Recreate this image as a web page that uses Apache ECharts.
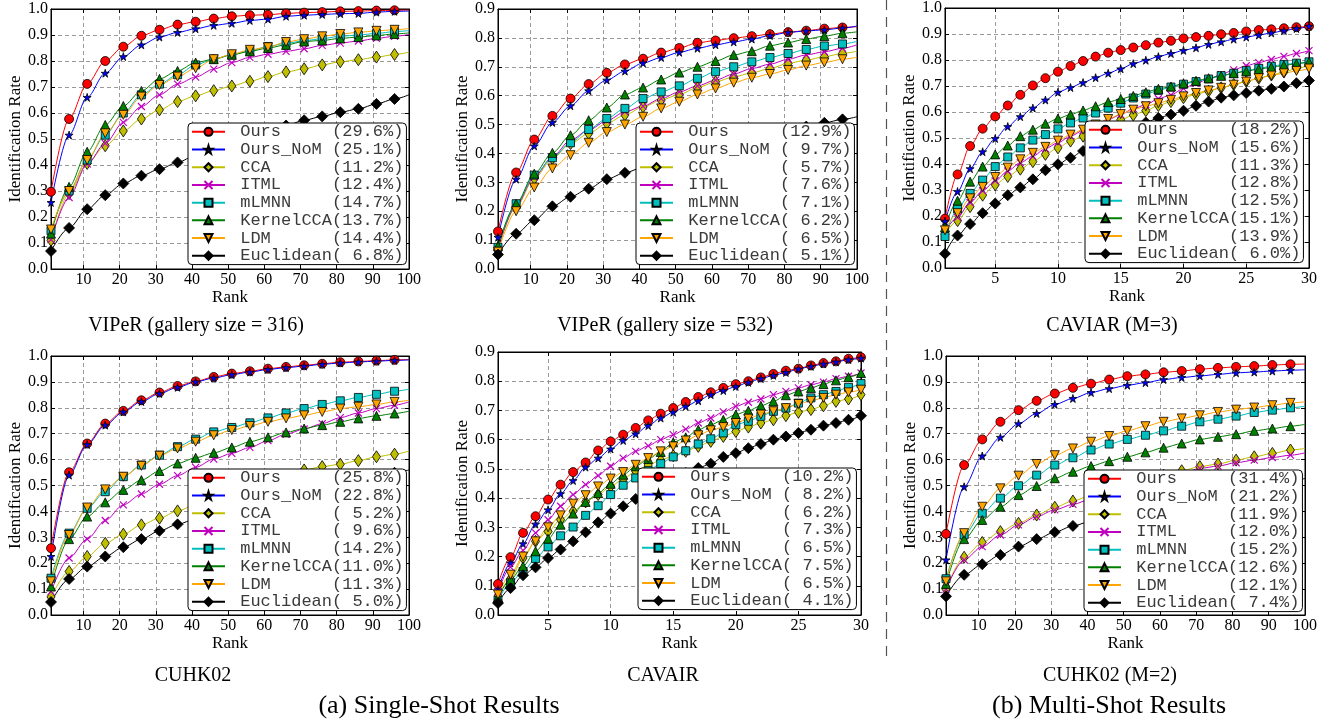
<!DOCTYPE html>
<html>
<head>
<meta charset="utf-8">
<script src="https://cdn.jsdelivr.net/npm/echarts@6/dist/echarts.min.js"></script>
<style>
  html, body { margin: 0; padding: 0; background: #fff; }
  #chart { width: 1330px; height: 721px; }
</style>
</head>
<body>
<div id="chart"></div>
<script>
// methods, in legend order
const methods = ['Ours', 'Ours_NoM', 'CCA', 'ITML', 'mLMNN', 'KernelCCA', 'LDM', 'Euclidean']

// ranks where markers are drawn (last 100 is the end of the line, no marker)
const ranks100 = [1, 6, 11, 16, 21, 26, 31, 36, 41, 46, 51, 56, 61, 66, 71, 76, 81, 86, 91, 96, 100]
const ranks30 = [1, 2, 3, 4, 5, 6, 7, 8, 9, 10, 11, 12, 13, 14, 15, 16, 17, 18, 19, 20, 21, 22, 23, 24, 25, 26, 27, 28, 29, 30]
const ticks100 = [10, 20, 30, 40, 50, 60, 70, 80, 90, 100]
const ticks30 = [5, 10, 15, 20, 25, 30]

// rank-1 rates shown in the legends
const pctViper316 = [29.6, 25.1, 11.2, 12.4, 14.7, 13.7, 14.4, 6.8]
const pctViper532 = [12.9, 9.7, 5.7, 7.6, 7.1, 6.2, 6.5, 5.1]
const pctCaviar3 = [18.2, 15.6, 11.3, 12.8, 12.5, 15.1, 13.9, 6.0]
const pctCuhk = [25.8, 22.8, 5.2, 9.6, 14.2, 11.0, 11.3, 5.0]
const pctCavair = [10.2, 8.2, 6.2, 7.3, 6.5, 7.5, 6.5, 4.1]
const pctCuhk2 = [31.4, 21.2, 11.9, 12.0, 15.2, 12.6, 12.1, 7.4]

// VIPeR (gallery size = 316), one row per method
const viper316 = [
    [0.297, 0.577, 0.712, 0.800, 0.855, 0.897, 0.920, 0.940, 0.951, 0.963, 0.972, 0.976, 0.978, 0.983, 0.986, 0.988, 0.991, 0.992, 0.994, 0.995, 0.996],
    [0.256, 0.515, 0.660, 0.753, 0.817, 0.862, 0.892, 0.910, 0.924, 0.937, 0.945, 0.956, 0.961, 0.972, 0.976, 0.979, 0.982, 0.983, 0.988, 0.991, 0.992],
    [0.110, 0.290, 0.406, 0.474, 0.531, 0.577, 0.612, 0.644, 0.666, 0.686, 0.704, 0.722, 0.740, 0.758, 0.770, 0.785, 0.797, 0.805, 0.815, 0.825, 0.834],
    [0.113, 0.275, 0.404, 0.483, 0.564, 0.625, 0.670, 0.711, 0.738, 0.769, 0.794, 0.814, 0.826, 0.837, 0.847, 0.860, 0.869, 0.877, 0.887, 0.895, 0.902],
    [0.147, 0.300, 0.419, 0.515, 0.600, 0.670, 0.711, 0.747, 0.785, 0.807, 0.824, 0.839, 0.856, 0.868, 0.878, 0.886, 0.895, 0.900, 0.906, 0.913, 0.917],
    [0.136, 0.316, 0.451, 0.554, 0.627, 0.685, 0.731, 0.762, 0.794, 0.807, 0.824, 0.837, 0.850, 0.862, 0.875, 0.879, 0.887, 0.892, 0.898, 0.904, 0.908],
    [0.152, 0.300, 0.419, 0.522, 0.593, 0.663, 0.708, 0.740, 0.772, 0.807, 0.826, 0.843, 0.853, 0.873, 0.884, 0.895, 0.904, 0.910, 0.916, 0.920, 0.925],
    [0.069, 0.158, 0.230, 0.284, 0.329, 0.359, 0.384, 0.410, 0.437, 0.462, 0.486, 0.509, 0.531, 0.552, 0.572, 0.587, 0.603, 0.616, 0.635, 0.654, 0.670]
]

// VIPeR (gallery size = 532)
const viper532 = [
    [0.130, 0.334, 0.448, 0.530, 0.590, 0.640, 0.679, 0.708, 0.728, 0.749, 0.765, 0.783, 0.791, 0.799, 0.806, 0.813, 0.820, 0.825, 0.832, 0.836, 0.839],
    [0.110, 0.311, 0.426, 0.507, 0.565, 0.617, 0.654, 0.685, 0.713, 0.732, 0.750, 0.764, 0.776, 0.786, 0.796, 0.808, 0.819, 0.824, 0.828, 0.834, 0.841],
    [0.070, 0.215, 0.313, 0.382, 0.434, 0.469, 0.504, 0.533, 0.561, 0.585, 0.604, 0.628, 0.648, 0.665, 0.679, 0.694, 0.712, 0.723, 0.735, 0.746, 0.754],
    [0.070, 0.220, 0.319, 0.388, 0.446, 0.481, 0.513, 0.544, 0.564, 0.590, 0.613, 0.634, 0.654, 0.675, 0.694, 0.709, 0.726, 0.741, 0.752, 0.764, 0.776],
    [0.075, 0.226, 0.325, 0.385, 0.437, 0.483, 0.521, 0.556, 0.590, 0.613, 0.634, 0.660, 0.683, 0.700, 0.717, 0.732, 0.746, 0.760, 0.772, 0.779, 0.788],
    [0.080, 0.226, 0.330, 0.402, 0.463, 0.515, 0.559, 0.604, 0.628, 0.656, 0.680, 0.700, 0.720, 0.741, 0.754, 0.773, 0.784, 0.796, 0.806, 0.816, 0.821],
    [0.060, 0.200, 0.282, 0.348, 0.394, 0.437, 0.474, 0.500, 0.527, 0.556, 0.579, 0.604, 0.625, 0.645, 0.662, 0.675, 0.689, 0.704, 0.715, 0.726, 0.733],
    [0.050, 0.122, 0.169, 0.217, 0.250, 0.278, 0.311, 0.333, 0.352, 0.370, 0.388, 0.405, 0.421, 0.436, 0.451, 0.466, 0.480, 0.493, 0.506, 0.518, 0.527]
]

// CAVIAR (M=3), ranks 1..30
const caviar3 = [
    [0.190, 0.360, 0.469, 0.536, 0.583, 0.625, 0.666, 0.702, 0.730, 0.755, 0.777, 0.796, 0.813, 0.828, 0.838, 0.848, 0.857, 0.867, 0.874, 0.883, 0.888, 0.893, 0.899, 0.904, 0.910, 0.915, 0.918, 0.922, 0.926, 0.930],
    [0.180, 0.294, 0.382, 0.447, 0.498, 0.544, 0.582, 0.615, 0.646, 0.676, 0.694, 0.713, 0.732, 0.749, 0.766, 0.786, 0.799, 0.813, 0.825, 0.837, 0.847, 0.860, 0.870, 0.880, 0.888, 0.896, 0.904, 0.913, 0.921, 0.930],
    [0.130, 0.182, 0.236, 0.280, 0.320, 0.352, 0.380, 0.409, 0.437, 0.462, 0.488, 0.507, 0.530, 0.550, 0.570, 0.588, 0.605, 0.625, 0.640, 0.655, 0.668, 0.680, 0.693, 0.706, 0.718, 0.730, 0.742, 0.754, 0.767, 0.780],
    [0.140, 0.195, 0.252, 0.297, 0.335, 0.373, 0.405, 0.430, 0.459, 0.482, 0.507, 0.529, 0.552, 0.571, 0.590, 0.613, 0.628, 0.651, 0.666, 0.690, 0.710, 0.727, 0.744, 0.762, 0.778, 0.790, 0.802, 0.814, 0.825, 0.836],
    [0.121, 0.227, 0.287, 0.338, 0.390, 0.427, 0.462, 0.492, 0.513, 0.535, 0.558, 0.577, 0.596, 0.615, 0.634, 0.654, 0.669, 0.683, 0.696, 0.707, 0.717, 0.727, 0.740, 0.749, 0.759, 0.768, 0.776, 0.783, 0.788, 0.793],
    [0.157, 0.259, 0.332, 0.390, 0.437, 0.471, 0.507, 0.532, 0.555, 0.575, 0.590, 0.606, 0.622, 0.638, 0.650, 0.662, 0.676, 0.689, 0.698, 0.710, 0.720, 0.730, 0.739, 0.749, 0.757, 0.765, 0.772, 0.779, 0.786, 0.792],
    [0.145, 0.211, 0.268, 0.312, 0.350, 0.386, 0.418, 0.443, 0.466, 0.490, 0.513, 0.532, 0.552, 0.573, 0.592, 0.609, 0.622, 0.634, 0.647, 0.660, 0.673, 0.683, 0.693, 0.705, 0.717, 0.730, 0.740, 0.749, 0.758, 0.767],
    [0.055, 0.125, 0.169, 0.211, 0.248, 0.280, 0.310, 0.341, 0.376, 0.399, 0.424, 0.450, 0.473, 0.497, 0.517, 0.539, 0.560, 0.577, 0.590, 0.605, 0.624, 0.640, 0.655, 0.664, 0.673, 0.682, 0.689, 0.698, 0.711, 0.721]
]

// CUHK02
const cuhk = [
    [0.258, 0.551, 0.662, 0.739, 0.788, 0.829, 0.859, 0.884, 0.902, 0.919, 0.932, 0.941, 0.951, 0.958, 0.964, 0.970, 0.976, 0.979, 0.982, 0.985, 0.986],
    [0.226, 0.540, 0.658, 0.733, 0.784, 0.824, 0.855, 0.879, 0.900, 0.915, 0.928, 0.938, 0.948, 0.955, 0.961, 0.968, 0.973, 0.977, 0.980, 0.983, 0.985],
    [0.070, 0.168, 0.226, 0.277, 0.312, 0.348, 0.374, 0.402, 0.425, 0.449, 0.472, 0.496, 0.518, 0.540, 0.560, 0.573, 0.582, 0.596, 0.611, 0.621, 0.633],
    [0.090, 0.220, 0.293, 0.365, 0.425, 0.467, 0.505, 0.538, 0.570, 0.602, 0.624, 0.647, 0.673, 0.698, 0.718, 0.739, 0.762, 0.780, 0.797, 0.810, 0.823],
    [0.142, 0.316, 0.412, 0.476, 0.534, 0.579, 0.617, 0.650, 0.679, 0.707, 0.724, 0.742, 0.761, 0.780, 0.797, 0.813, 0.827, 0.840, 0.852, 0.864, 0.872],
    [0.110, 0.293, 0.380, 0.435, 0.483, 0.521, 0.556, 0.585, 0.607, 0.626, 0.647, 0.669, 0.686, 0.705, 0.720, 0.733, 0.746, 0.759, 0.769, 0.778, 0.787],
    [0.130, 0.309, 0.415, 0.485, 0.534, 0.576, 0.615, 0.643, 0.669, 0.694, 0.714, 0.730, 0.746, 0.759, 0.771, 0.784, 0.797, 0.804, 0.813, 0.823, 0.829],
    [0.050, 0.139, 0.187, 0.226, 0.262, 0.293, 0.325, 0.350, 0.371, 0.391, 0.410, 0.428, 0.445, 0.462, 0.478, 0.493, 0.508, 0.522, 0.536, 0.549, 0.560]
]

// CAVAIR, ranks 1..30
const cavair = [
    [0.106, 0.198, 0.281, 0.338, 0.395, 0.446, 0.489, 0.522, 0.563, 0.594, 0.617, 0.640, 0.666, 0.689, 0.708, 0.729, 0.746, 0.762, 0.777, 0.790, 0.800, 0.813, 0.825, 0.836, 0.843, 0.854, 0.862, 0.868, 0.877, 0.882],
    [0.087, 0.178, 0.244, 0.311, 0.360, 0.415, 0.460, 0.506, 0.537, 0.568, 0.597, 0.620, 0.648, 0.674, 0.694, 0.714, 0.733, 0.754, 0.768, 0.782, 0.796, 0.809, 0.820, 0.830, 0.842, 0.851, 0.859, 0.866, 0.874, 0.879],
    [0.065, 0.123, 0.195, 0.252, 0.286, 0.326, 0.355, 0.387, 0.412, 0.440, 0.465, 0.492, 0.513, 0.530, 0.545, 0.560, 0.577, 0.594, 0.611, 0.628, 0.643, 0.657, 0.668, 0.682, 0.694, 0.703, 0.716, 0.731, 0.739, 0.754],
    [0.080, 0.164, 0.221, 0.281, 0.326, 0.372, 0.412, 0.446, 0.477, 0.509, 0.537, 0.560, 0.579, 0.600, 0.617, 0.636, 0.657, 0.674, 0.695, 0.714, 0.728, 0.739, 0.754, 0.765, 0.777, 0.788, 0.797, 0.809, 0.817, 0.828],
    [0.050, 0.110, 0.149, 0.193, 0.233, 0.271, 0.301, 0.341, 0.374, 0.412, 0.444, 0.469, 0.494, 0.518, 0.541, 0.562, 0.585, 0.603, 0.623, 0.651, 0.663, 0.680, 0.697, 0.708, 0.725, 0.743, 0.754, 0.765, 0.779, 0.792],
    [0.060, 0.121, 0.167, 0.218, 0.261, 0.309, 0.347, 0.387, 0.417, 0.449, 0.480, 0.509, 0.534, 0.558, 0.591, 0.608, 0.634, 0.651, 0.668, 0.686, 0.699, 0.716, 0.731, 0.752, 0.765, 0.777, 0.790, 0.803, 0.814, 0.828],
    [0.070, 0.138, 0.200, 0.252, 0.300, 0.341, 0.381, 0.410, 0.440, 0.467, 0.489, 0.514, 0.537, 0.560, 0.577, 0.597, 0.615, 0.632, 0.643, 0.657, 0.672, 0.686, 0.697, 0.708, 0.722, 0.733, 0.743, 0.754, 0.762, 0.771],
    [0.041, 0.092, 0.136, 0.163, 0.195, 0.224, 0.252, 0.283, 0.317, 0.347, 0.372, 0.397, 0.418, 0.440, 0.463, 0.486, 0.503, 0.518, 0.541, 0.554, 0.571, 0.585, 0.600, 0.611, 0.623, 0.634, 0.648, 0.657, 0.668, 0.682]
]

// CUHK02 (M=2)
const cuhk2 = [
    [0.313, 0.579, 0.678, 0.746, 0.791, 0.827, 0.855, 0.877, 0.893, 0.909, 0.922, 0.929, 0.937, 0.942, 0.949, 0.954, 0.958, 0.961, 0.965, 0.968, 0.969],
    [0.213, 0.495, 0.614, 0.686, 0.739, 0.778, 0.813, 0.836, 0.859, 0.874, 0.887, 0.897, 0.909, 0.917, 0.923, 0.929, 0.935, 0.938, 0.942, 0.945, 0.947],
    [0.100, 0.223, 0.280, 0.322, 0.354, 0.386, 0.416, 0.440, 0.462, 0.483, 0.503, 0.522, 0.540, 0.557, 0.573, 0.583, 0.598, 0.611, 0.624, 0.637, 0.643],
    [0.100, 0.213, 0.264, 0.309, 0.348, 0.380, 0.406, 0.427, 0.448, 0.468, 0.488, 0.507, 0.525, 0.546, 0.566, 0.575, 0.588, 0.598, 0.608, 0.617, 0.626],
    [0.140, 0.309, 0.393, 0.451, 0.499, 0.540, 0.579, 0.607, 0.637, 0.660, 0.678, 0.694, 0.711, 0.729, 0.746, 0.756, 0.768, 0.782, 0.791, 0.800, 0.806],
    [0.120, 0.293, 0.367, 0.418, 0.463, 0.498, 0.528, 0.553, 0.575, 0.594, 0.611, 0.628, 0.646, 0.662, 0.678, 0.688, 0.698, 0.711, 0.720, 0.729, 0.736],
    [0.130, 0.316, 0.418, 0.489, 0.538, 0.583, 0.617, 0.643, 0.669, 0.691, 0.711, 0.729, 0.746, 0.759, 0.771, 0.784, 0.793, 0.801, 0.810, 0.819, 0.823],
    [0.072, 0.155, 0.196, 0.232, 0.264, 0.293, 0.320, 0.344, 0.362, 0.380, 0.397, 0.413, 0.428, 0.443, 0.457, 0.470, 0.483, 0.495, 0.507, 0.518, 0.527]
]

// line colour, marker fill, marker shape, marker size
const star = 'path://M50,0 L61,35 L98,35 L68,57 L79,91 L50,70 L21,91 L32,57 L2,35 L39,35 Z'
const cross = 'path://M0,0 L10,10 M10,0 L0,10'
const triDown = 'path://M0,0 L10,0 L5,9 Z'
const styles = [
    { color: '#ff0000', symbol: 'circle', size: 9 },
    { color: '#0000ff', symbol: star, size: 8 },
    { color: '#bfbf00', symbol: 'diamond', size: [8, 12] },
    { color: '#bf00bf', symbol: cross, size: 7, cross: true },
    { color: '#00bfbf', symbol: 'rect', size: 8 },
    { color: '#008000', symbol: 'triangle', size: 9 },
    { color: '#ffa500', symbol: triDown, size: 9 },
    { color: '#000000', symbol: 'diamond', size: 11 }
]

// layout of the six panels (pixels)
const panels = [
    { rows: viper316, pct: pctViper316, ranks: ranks100, ticks: ticks100, xMax: 100, yMax: 1.0, grid: [51, 9, 358, 260], legend: [188, 123] },
    { rows: viper532, pct: pctViper532, ranks: ranks100, ticks: ticks100, xMax: 100, yMax: 0.9, grid: [498, 9, 359, 260], legend: [636, 123] },
    { rows: caviar3, pct: pctCaviar3, ranks: ranks30, ticks: ticks30, xMax: 30, yMax: 1.0, grid: [945, 6, 364, 262], legend: [1085, 121] },
    { rows: cuhk, pct: pctCuhk, ranks: ranks100, ticks: ticks100, xMax: 100, yMax: 1.0, grid: [51, 356, 358, 259], legend: [188, 469] },
    { rows: cavair, pct: pctCavair, ranks: ranks30, ticks: ticks30, xMax: 30, yMax: 0.9, grid: [498, 352, 363, 263], legend: [638, 468] },
    { rows: cuhk2, pct: pctCuhk2, ranks: ranks100, ticks: ticks100, xMax: 100, yMax: 1.0, grid: [946, 356, 359, 259], legend: [1084, 470] }
]

const serif = 'Liberation Serif'
const dash = { color: '#808080', type: [4, 3], width: 0.8 }

let grids = []; let xAxes = []; let yAxes = []; let legends = []; let series = []

panels.forEach((p, i) => {
    grids.push({
        left: p.grid[0], top: p.grid[1], width: p.grid[2], height: p.grid[3],
        show: true, borderColor: '#000', borderWidth: 1, backgroundColor: '#fff'
    })
    // bottom axis with labels, top axis only for the mirrored ticks
    xAxes.push({
        type: 'value', gridIndex: i, min: 1, max: p.xMax,
        name: 'Rank', nameLocation: 'middle', nameGap: 19,
        nameTextStyle: { fontFamily: serif, fontSize: 17, color: '#000' },
        axisLine: { onZero: false, lineStyle: { color: '#000', width: 1 } },
        axisTick: { inside: true, length: 4, customValues: p.ticks, lineStyle: { color: '#000' } },
        axisLabel: { customValues: p.ticks, fontFamily: serif, fontSize: 16, color: '#000', margin: 3 },
        splitLine: { show: true, lineStyle: dash }
    })
    xAxes.push({
        type: 'value', gridIndex: i, min: 1, max: p.xMax, position: 'top',
        axisLine: { onZero: false, lineStyle: { color: '#000', width: 1 } },
        axisTick: { inside: true, length: 4, customValues: p.ticks, lineStyle: { color: '#000' } },
        axisLabel: { show: false },
        splitLine: { show: false }
    })
    yAxes.push({
        type: 'value', gridIndex: i, min: 0, max: p.yMax, interval: 0.1,
        name: 'Identification Rate', nameLocation: 'middle', nameGap: 27,
        nameTextStyle: { fontFamily: serif, fontSize: 17, color: '#000' },
        axisLine: { onZero: false, lineStyle: { color: '#000', width: 1 } },
        axisTick: { inside: true, length: 4, lineStyle: { color: '#000' } },
        axisLabel: { fontFamily: serif, fontSize: 16, color: '#000', margin: 3, formatter: v => v.toFixed(1) },
        splitLine: { show: true, lineStyle: dash }
    })
    yAxes.push({
        type: 'value', gridIndex: i, min: 0, max: p.yMax, interval: 0.1, position: 'right',
        axisLine: { onZero: false, lineStyle: { color: '#000', width: 1 } },
        axisTick: { inside: true, length: 4, lineStyle: { color: '#000' } },
        axisLabel: { show: false },
        splitLine: { show: false }
    })

    let names = []
    methods.forEach((m, k) => {
        let st = styles[k]
        let name = 'p' + i + ':' + m
        names.push(name)
        let data = p.ranks.map((r, j) => {
            let item = { value: [r, p.rows[k][j]] }
            if (p.xMax === 100 && r === 100) item.symbol = 'none'
            return item
        })
        series.push({
            name: name,
            type: 'line',
            xAxisIndex: 2 * i,
            yAxisIndex: 2 * i,
            data: data,
            symbol: st.symbol,
            symbolSize: st.size,
            smooth: 0.3,
            smoothMonotone: 'x',
            clip: false,
            lineStyle: { color: st.color, width: 1 },
            itemStyle: st.cross
                ? { color: 'rgba(0,0,0,0)', borderColor: st.color, borderWidth: 1.2 }
                : { color: st.color, borderColor: '#000', borderWidth: 0.8 },
            emphasis: { disabled: true },
            animation: false
        })
    })

    legends.push({
        orient: 'vertical',
        left: p.legend[0],
        top: p.legend[1],
        data: names,
        selectedMode: false,
        itemWidth: 33,
        itemHeight: 10,
        itemGap: 0,
        padding: [0, 3, 0, 3],
        backgroundColor: '#fff',
        borderColor: '#000',
        borderWidth: 1,
        borderRadius: 4,
        textStyle: { fontFamily: 'Liberation Mono', fontSize: 17, color: '#3a3a3a', lineHeight: 17.7 },
        formatter: function (name) {
            let k = methods.indexOf(name.split(':')[1])
            return ' ' + methods[k].padEnd(9) + '(' + p.pct[k].toFixed(1).padStart(4) + '%)'
        }
    })
})

const subtitles = [
    { text: 'VIPeR (gallery size = 316)', x: 196, y: 326 },
    { text: 'VIPeR (gallery size = 532)', x: 665, y: 326 },
    { text: 'CAVIAR (M=3)', x: 1112, y: 326 },
    { text: 'CUHK02', x: 193, y: 676 },
    { text: 'CAVAIR', x: 663, y: 676 },
    { text: 'CUHK02 (M=2)', x: 1110, y: 676 }
]
const captions = [
    { text: '(a) Single-Shot Results', x: 439, y: 706 },
    { text: '(b) Multi-Shot Results', x: 1109, y: 706 }
]

let graphics = [{
    type: 'line',
    shape: { x1: 886.5, y1: 0, x2: 886.5, y2: 658 },
    style: { stroke: '#555', lineWidth: 1.2, lineDash: [10, 7] }
}]
subtitles.forEach(t => graphics.push({
    type: 'text', x: t.x, y: t.y,
    style: { text: t.text, font: '20px "Liberation Serif"', fill: '#000', align: 'center', verticalAlign: 'middle' }
}))
captions.forEach(t => graphics.push({
    type: 'text', x: t.x, y: t.y,
    style: { text: t.text, font: '26px "Liberation Serif"', fill: '#000', align: 'center', verticalAlign: 'middle' }
}))

let option = {
    backgroundColor: '#fff',
    animation: false,
    grid: grids,
    xAxis: xAxes,
    yAxis: yAxes,
    legend: legends,
    series: series,
    graphic: graphics
}

var myChart = echarts.init(document.getElementById('chart'), null, { renderer: 'canvas' })
myChart.setOption(option)
</script>
</body>
</html>
